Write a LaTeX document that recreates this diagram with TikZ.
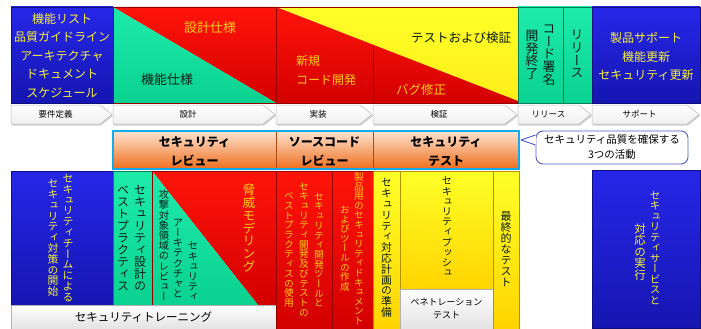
\documentclass[tikz,border=0pt]{standalone}
\usepackage{fontspec}
\setmainfont{Noto Sans CJK JP}
\newfontfamily\vjp[RawFeature=+vert]{Noto Sans CJK JP}
\def\vtend{VTEND}
\newcommand\vt[1]{\vbox{\vjp\baselineskip=1.0em\lineskiplimit=-1000pt\lineskip=0pt\vtloop#1\vtend}}
\def\vtloop#1{\ifx#1\vtend\else\hbox to 1em{\hss#1\hss}\expandafter\vtloop\fi}
\newcommand\fs[1]{\fontsize{#1}{#1}\selectfont}
\definecolor{blueT}{RGB}{38,38,232}
\definecolor{blueB}{RGB}{22,22,178}
\definecolor{tealT}{RGB}{30,235,170}
\definecolor{tealB}{RGB}{10,210,145}
\definecolor{redT}{RGB}{255,20,10}
\definecolor{redB}{RGB}{210,0,0}
\definecolor{ylT}{RGB}{255,255,40}
\definecolor{ylB}{RGB}{255,212,0}
\definecolor{orT}{RGB}{253,228,208}
\definecolor{orB}{RGB}{240,110,30}
\definecolor{cyanc}{RGB}{20,170,235}
\definecolor{callc}{RGB}{80,88,200}
\definecolor{ytx}{RGB}{245,240,60}
\definecolor{otx}{RGB}{255,205,20}
\definecolor{dtx}{RGB}{10,30,25}
\begin{document}
\begin{tikzpicture}[x=1pt,y=-1pt,
  vtn/.style={inner sep=0pt},
  bluebox/.style={top color=blueT,bottom color=blueB,draw=blueB!70!black,line width=.4pt},
  tealbox/.style={top color=tealT,bottom color=tealB,draw=tealB!60!black,line width=.4pt},
  redbox/.style={top color=redT,bottom color=redB,draw=redB!70!black,line width=.4pt},
  ylbox/.style={top color=ylT,bottom color=ylB,draw=ylB!70!black,line width=.4pt},
  whbox/.style={top color=white,bottom color=gray!22,draw=gray!60,line width=.4pt},
  chev/.style={top color=white,bottom color=gray!12,draw=gray!55,line width=.5pt}]
\useasboundingbox (0,0) rectangle (701,329);
\fill[white] (0,0) rectangle (701,329);

% ---------- top row ----------
\shade[bluebox] (11,7) rectangle (113,103);
\node[text=ytx, font=\fontsize{12}{18.4}\selectfont, align=center] (req) at (62,55.5)
  {機能リスト\\品質ガイドライン\\アーキテクチャ\\ドキュメント\\スケジュール};

\shade[top color=redT,bottom color=redB] (113,7) -- (276,7) -- (276,103) -- cycle;
\shade[top color=tealT,bottom color=tealB] (113,7) -- (113,103) -- (276,103) -- cycle;
\draw[redB!70!black,line width=.4pt] (113,7) rectangle (276,103);
\node[text=otx, font=\fs{13}] (dspec) at (210,28) {設計仕様};
\node[text=dtx, font=\fs{13}] (fspec) at (167,80) {機能仕様};

\shade[top color=ylT,bottom color=ylB!40!ylT] (276,7) -- (518,7) -- (518,101) -- cycle;
\shade[top color=redT,bottom color=redB] (276,7) -- (518,101) -- (518,103) -- (276,103) -- cycle;
\draw[redB!60!black,line width=.9pt] (373,44.7) -- (373,103);
\draw[redB!70!black,line width=.4pt] (276,7) rectangle (518,103);
\node[text=dtx, font=\fs{12.5}] (testv) at (461,38) {テストおよび検証};
\node[text=otx, font=\fontsize{12}{19}\selectfont, align=left, anchor=west, inner sep=0pt] (newcode) at (296,70.5) {新規\\コード開発};
\node[text=otx, font=\fs{12.5}] (bugfix) at (421,90) {バグ修正};

\shade[tealbox] (518,7) rectangle (563,103);
\shade[tealbox] (563,7) rectangle (592,103);
\node[vtn, text=dtx, font=\fs{12.8}] (sign) at (549,55) {\vt{コード署名}};
\node[vtn, text=dtx, font=\fs{12.8}] (devend) at (532,55) {\vt{開発終了}};
\node[vtn, text=dtx, font=\fs{12.8}] (rel) at (577,54) {\vt{リリース}};

\shade[bluebox] (592,7) rectangle (700,103);
\node[text=ytx, font=\fontsize{12}{18.5}\selectfont, align=center] (sup) at (646,56.5)
  {製品サポート\\機能更新\\セキュリティ更新};

% ---------- chevrons ----------
\foreach \a/\b/\t/\n in {11/113/要件定義/c1, 113/276/設計/c2, 276/373/実装/c3,
   373/518/検証/c4, 518/592/リリース/c5, 592/700/サポート/c6}{
  \fill[gray!35] ({\a+1},106.5) -- ({\b-12},106.5) -- (\b,116) -- ({\b-12},125.5) -- ({\a+1},125.5) -- cycle;
  \shade[chev] (\a,105) -- ({\b-13},105) -- ({\b-1},114.5) -- ({\b-13},124) -- (\a,124) -- cycle;
  \node[font=\fs{8.5}] (\n) at ({(\a+\b-13)/2},114.5) {\t};
}

% ---------- security activities row ----------
\shade[top color=orT,bottom color=orB] (113,131) rectangle (519,169);
\draw[orB!70!black,line width=.4pt] (276,131) -- (276,169) (373,131) -- (373,169);
\draw[cyanc,line width=2.6pt] (113,131) rectangle (519,169);
\node[font=\bfseries\fontsize{12}{18.5}\selectfont, align=center] (secrev) at (194.5,151.5) {セキュリティ\\レビュー};
\node[font=\bfseries\fontsize{12}{18.5}\selectfont, align=center] (srcrev) at (324.5,151.5) {ソースコード\\レビュー};
\node[font=\bfseries\fontsize{12}{18.5}\selectfont, align=center] (sectest) at (446,151.5) {セキュリティ\\テスト};

\node[draw=callc, line width=.9pt, fill=white, rounded corners=7pt, minimum width=152pt,
  minimum height=33pt, inner sep=0pt, font=\fontsize{10.5}{15}\selectfont, align=center] (callout) at (612,147.5)
  {セキュリティ品質を確保する\\3つの活動};
\coordinate (ptip) at (521,140);
\fill[white] (callout.west |- 0,134.8) ++(0.6,0) -- (ptip) -- ([xshift=0.6pt]callout.west |- 0,145.2) -- cycle;
\draw[callc, line width=.9pt, line join=round] (callout.west |- 0,135) -- (ptip) -- (callout.west |- 0,145);

% ---------- bottom row ----------
\shade[bluebox] (11,171) rectangle (113,305);
\node[vtn, text=ytx, font=\fs{10.8}] (b1a) at (68,238) {\vt{セキュリティチームによる}};
\node[vtn, text=ytx, font=\fs{10.8}] (b1b) at (53,238) {\vt{セキュリティ対策の開始}};

\shade[tealbox] (113,171) rectangle (152,305);
\node[vtn, text=dtx, font=\fs{12}] (bp1) at (140,238.5) {\vt{セキュリティ設計の}};
\node[vtn, text=dtx, font=\fs{12}] (bp2) at (123,238.5) {\vt{ベストプラクティス}};

\shade[top color=redT,bottom color=redB] (152,171) -- (276,171) -- (276,305) -- (258,305) -- cycle;
\shade[top color=tealT,bottom color=tealB] (152,171) -- (152,305) -- (258,305) -- cycle;
\draw[redB!70!black,line width=.4pt] (152,171) rectangle (276,305);
\node[vtn, text=dtx, font=\fs{10.2}, anchor=south] (ar1) at (193,301) {\vt{セキュリティ}};
\node[vtn, text=dtx, font=\fs{10.2}, anchor=south] (ar2) at (178,298) {\vt{アーキテクチャと}};
\node[vtn, text=dtx, font=\fs{10.2}, anchor=south] (ar3) at (164,301) {\vt{攻撃対象領域のレビュー}};
\node[vtn, text=otx, font=\fs{12.8}] (threat) at (249,228) {\vt{脅威モデリング}};

\shade[whbox] (11,305) rectangle (276,329);
\node[font=\fs{11.5}] (train) at (143.5,317) {セキュリティトレーニング};

\shade[redbox] (276,171) rectangle (332,329);
\shade[redbox] (332,171) rectangle (373,329);
\node[vtn, text=otx, font=\fs{9.7}] (dt1) at (319,250) {\vt{セキュリティ開発ツールと}};
\node[vtn, text=otx, font=\fs{9.7}] (dt2) at (304,249.5) {\vt{セキュリティ開発及びテストの}};
\node[vtn, text=otx, font=\fs{9.7}] (dt3) at (289,250) {\vt{ベストプラクティスの使用}};
\node[vtn, text=otx, font=\fs{9.6}] (doc1) at (359,248.5) {\vt{製品用のセキュリティドキュメント}};
\node[vtn, text=otx, font=\fs{9.6}] (doc2) at (345,248.5) {\vt{およびツールの作成}};

\shade[ylbox] (373,171) rectangle (400,329);
\shade[ylbox] (400,171) rectangle (493,289);
\shade[whbox] (400,289) rectangle (493,329);
\shade[ylbox] (493,171) rectangle (519,329);
\node[vtn, text=dtx, font=\fs{10.8}] (resp) at (386.5,248) {\vt{セキュリティ対応計画の準備}};
\node[vtn, text=dtx, font=\fs{10.2}] (push) at (447,227) {\vt{セキュリティプッシュ}};
\node[font=\fontsize{9}{13}\selectfont, align=center] (pen) at (446.5,308.5) {ペネトレーション\\テスト};
\node[vtn, text=dtx, font=\fs{11}] (final) at (506,249) {\vt{最終的なテスト}};

\shade[bluebox] (592,170) rectangle (700,328);
\node[vtn, text=ytx, font=\fs{10.5}] (svc1) at (655,248) {\vt{セキュリティサービスと}};
\node[vtn, text=ytx, font=\fs{11.5}] (svc2) at (640,252) {\vt{対応の実行}};
\end{tikzpicture}
\end{document}
